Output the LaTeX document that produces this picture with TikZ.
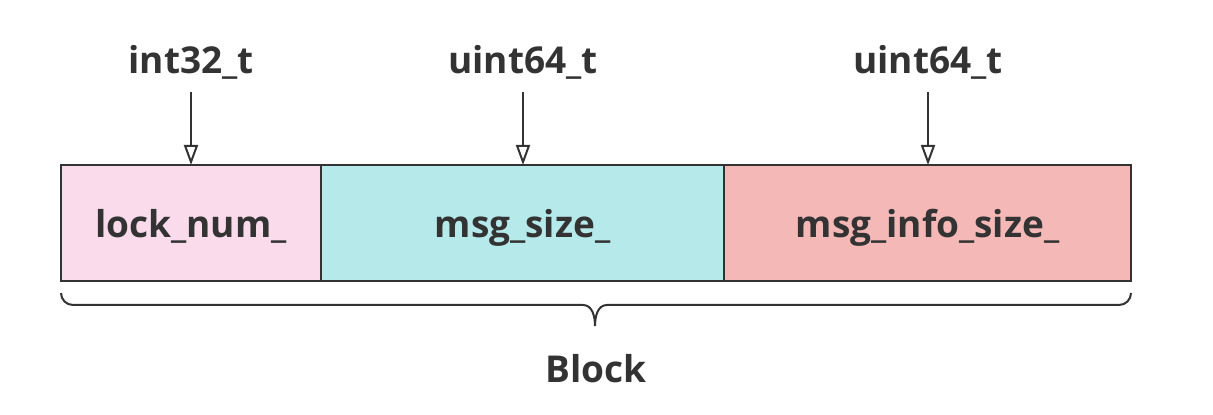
\documentclass[tikz,border=0pt]{standalone}
\usepackage{fontspec}
\setmainfont{Open Sans}
\usetikzlibrary{positioning,arrows.meta}
\definecolor{inkgray}{HTML}{333333}
\definecolor{lockpink}{HTML}{FADBEB}
\definecolor{sizecyan}{HTML}{B6E9EA}
\definecolor{infored}{HTML}{F4B9B7}

\begin{document}
\begin{tikzpicture}[x=0.5pt,y=-0.5pt,>={Triangle[open,width=7pt,length=10pt]},
	]

	\tikzset{field/.style={
				draw=inkgray,line width=1pt,outer sep=0pt,inner sep=0pt,
				minimum height=58pt,text=inkgray,text depth=0pt,
				font=\fontsize{18.5}{20}\selectfont\bfseries}
	}
	\tikzset{typename/.style={
				text=inkgray,inner sep=0pt,
				font=\fontsize{18.5}{20}\selectfont\bfseries}
	}
	\tikzset{type arrow/.style={->,draw=inkgray,line width=1pt}}

	\useasboundingbox (0,0) rectangle (1213,415);

	\node[field,fill=lockpink,minimum width=130pt,anchor=north west] (lock) at (61,165) {lock\_num\_};
	\node[field,fill=sizecyan,minimum width=201.5pt,right=0pt of lock] (msgsize) {msg\_size\_};
	\node[field,fill=infored,minimum width=203.5pt,right=0pt of msgsize] (infosize) {msg\_info\_size\_};

	\node[typename] (t1) at (191,62) {int32\_t};
	\node[typename] (t2) at (523,62) {uint64\_t};
	\node[typename] (t3) at (928,62) {uint64\_t};

	\coordinate (a1) at (191,165);
	\coordinate (a2) at (523,165);
	\coordinate (a3) at (928,165);
	\draw[type arrow] (t1.south |- 0,92) -- (a1);
	\draw[type arrow] (t2.south |- 0,92) -- (a2);
	\draw[type arrow] (t3.south |- 0,92) -- (a3);

	% brace under the block
	\coordinate (bl) at (61,293);
	\coordinate (br) at (1131,293);
	\coordinate (tip) at (595,326);
	\draw[draw=inkgray,line width=1pt]
		(bl) to[out=-90,in=180] ++(12,12) -- (583,305) to[out=0,in=90] (tip)
		to[out=90,in=180] (607,305) -- (1119,305) to[out=0,in=-90] (br);

	\node[typename] (block) at (596,369) {Block};

\end{tikzpicture}
\end{document}
